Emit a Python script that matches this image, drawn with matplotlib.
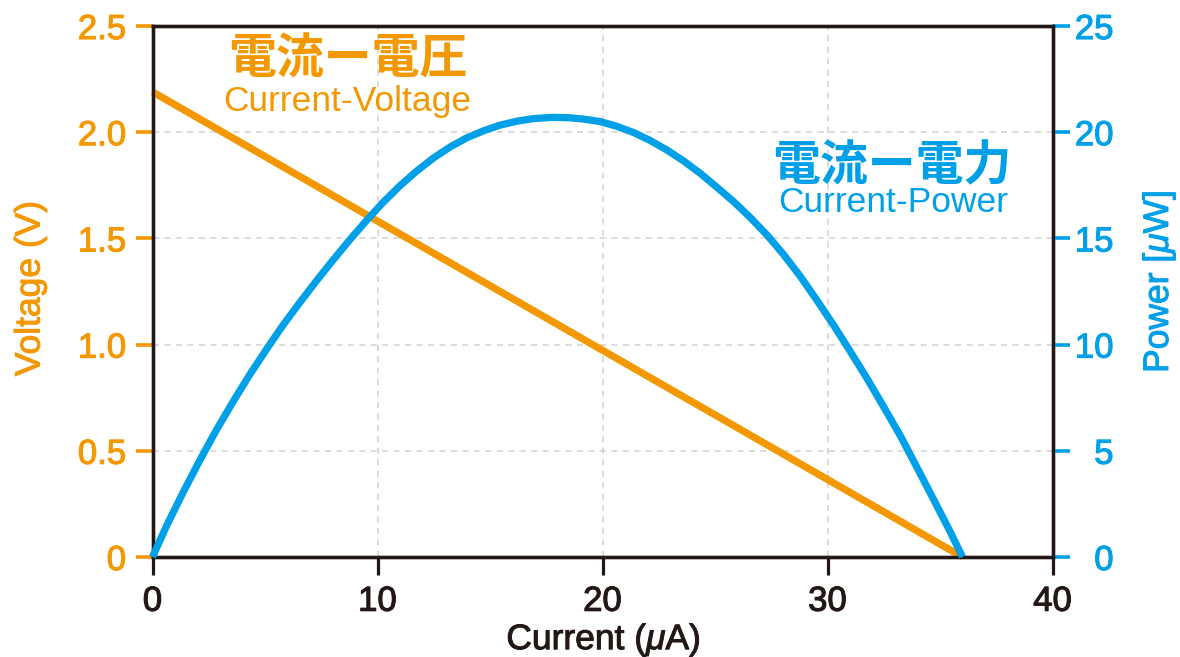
import matplotlib
matplotlib.use("Agg")
import matplotlib.pyplot as plt
import matplotlib.patheffects as pe

# ---- data ----
current_v = [0, 36]
voltage = [2.19, 0.0]

current_p = [0, 0.63, 1.37, 2.11, 2.85, 3.59, 4.33, 5.08, 5.81, 6.56, 7.3, 8.04,
             8.78, 9.52, 10.25, 11.0, 11.74, 12.48, 13.22, 13.96, 14.72, 15.44,
             16.2, 16.92, 17.8, 18.5, 19.15, 19.9, 20.63, 21.39, 22.1, 22.88,
             23.6, 24.36, 25.07, 25.84, 26.55, 27.32, 28.04, 28.8, 29.52, 30.28,
             31.0, 31.76, 32.48, 33.24, 33.96, 34.72, 35.4, 36.0]
power = [0, 1.48, 3.06, 4.57, 6.0, 7.33, 8.6, 9.8, 10.93, 12.0, 13.02, 14.0,
         14.95, 15.85, 16.7, 17.48, 18.17, 18.78, 19.3, 19.73, 20.07, 20.33,
         20.52, 20.64, 20.7, 20.68, 20.62, 20.5, 20.28, 19.98, 19.62, 19.15,
         18.65, 18.05, 17.42, 16.72, 16.0, 15.15, 14.25, 13.2, 12.1, 10.9,
         9.7, 8.4, 7.1, 5.7, 4.25, 2.7, 1.3, 0.0]

x_ticks = [0, 10, 20, 30, 40]
x_labels = ["0", "10", "20", "30", "40"]
v_ticks = [0, 0.5, 1.0, 1.5, 2.0, 2.5]
v_labels = ["0", "0.5", "1.0", "1.5", "2.0", "2.5"]
p_ticks = [0, 5, 10, 15, 20, 25]
p_labels = ["0", "5", "10", "15", "20", "25"]

ORANGE = "#F39800"
BLUE = "#00A0E9"
BLACK = "#231815"

plt.rcParams["mathtext.fontset"] = "custom"
plt.rcParams["mathtext.rm"] = "Liberation Sans"
plt.rcParams["mathtext.it"] = "Liberation Sans:italic"

FONT = "Liberation Sans"
cjk = ["Noto Sans CJK JP", "DejaVu Sans"]

fig = plt.figure(figsize=(11.8, 6.57), dpi=100)
ax = fig.add_axes([152.5/1180, 1 - 557/657, 900/1180, 531/657])
ax2 = ax.twinx()

ax.set_xlim(0, 40)
ax.set_ylim(0, 2.5)
ax2.set_ylim(0, 25)

ax.set_xticks(x_ticks)
ax.set_xticklabels(x_labels)
ax.set_yticks(v_ticks)
ax.set_yticklabels(v_labels)
ax2.set_yticks(p_ticks)
ax2.set_yticklabels(p_labels)

ax.grid(True, color="#d2d2d2", linestyle=(0, (4, 3.5)), linewidth=1.1)
ax.set_axisbelow(True)

for a in (ax, ax2):
    for s in a.spines.values():
        s.set_color(BLACK)
        s.set_linewidth(2.4)

ax.tick_params(axis="x", direction="out", length=13, width=2.3, color=BLACK,
               labelsize=25, labelcolor=BLACK, pad=7)
ax.tick_params(axis="y", direction="out", length=12, width=2.6, color=ORANGE,
               labelsize=25, labelcolor=ORANGE, pad=7)
ax2.tick_params(axis="y", direction="out", length=12, width=2.6, color=BLUE,
                labelsize=25, labelcolor=BLUE, pad=32)

def embolden(t, color):
    t.set_fontfamily(FONT)
    t.set_path_effects([pe.withStroke(linewidth=0.8, foreground=color)])

for lab in ax.get_xticklabels():
    embolden(lab, BLACK)
for lab in ax.get_yticklabels():
    embolden(lab, ORANGE)
for lab in ax2.get_yticklabels():
    embolden(lab, BLUE)
    lab.set_horizontalalignment("right")

ax.plot(current_v, voltage, color=ORANGE, lw=5.2, solid_capstyle="butt",
        clip_on=False, zorder=5)
ax2.plot(current_p, power, color=BLUE, lw=5.2, solid_capstyle="butt",
         solid_joinstyle="round", clip_on=False, zorder=4)

xl = ax.set_xlabel("Current ($\\mu$A)", fontsize=25.5, color=BLACK, family=FONT)
xl.set_va("center")
ax.xaxis.set_label_coords(0.501, -0.156)
yl = ax.set_ylabel("Voltage (V)", fontsize=25.5, color=ORANGE, family=FONT)
yl.set_va("center")
ax.yaxis.set_label_coords(-0.136, 0.506)
yl2 = ax2.set_ylabel("Power [$\\mu$W]", fontsize=25.5, color=BLUE, family=FONT)
yl2.set_va("center")
ax2.yaxis.set_label_coords(1.118, 0.518)
for t, c in ((xl, BLACK), (yl, ORANGE), (yl2, BLUE)):
    t.set_path_effects([pe.withStroke(linewidth=0.7, foreground=c)])

# annotations
ax.text(8.67, 2.347, "電流ー電圧", fontsize=34.5, color=ORANGE, family=cjk,
        fontweight="bold", ha="center", va="center")
ax.text(8.67, 2.101, "Current-Voltage", fontsize=25.5, color=ORANGE, family=FONT,
        ha="center", va="baseline")
ax2.text(32.88, 18.42, "電流ー電力", fontsize=34.5, color=BLUE, family=cjk,
         fontweight="bold", ha="center", va="center")
ax2.text(32.92, 16.26, "Current-Power", fontsize=25.5, color=BLUE, family=FONT,
         ha="center", va="baseline")

fig.savefig("out.png", dpi=100)
